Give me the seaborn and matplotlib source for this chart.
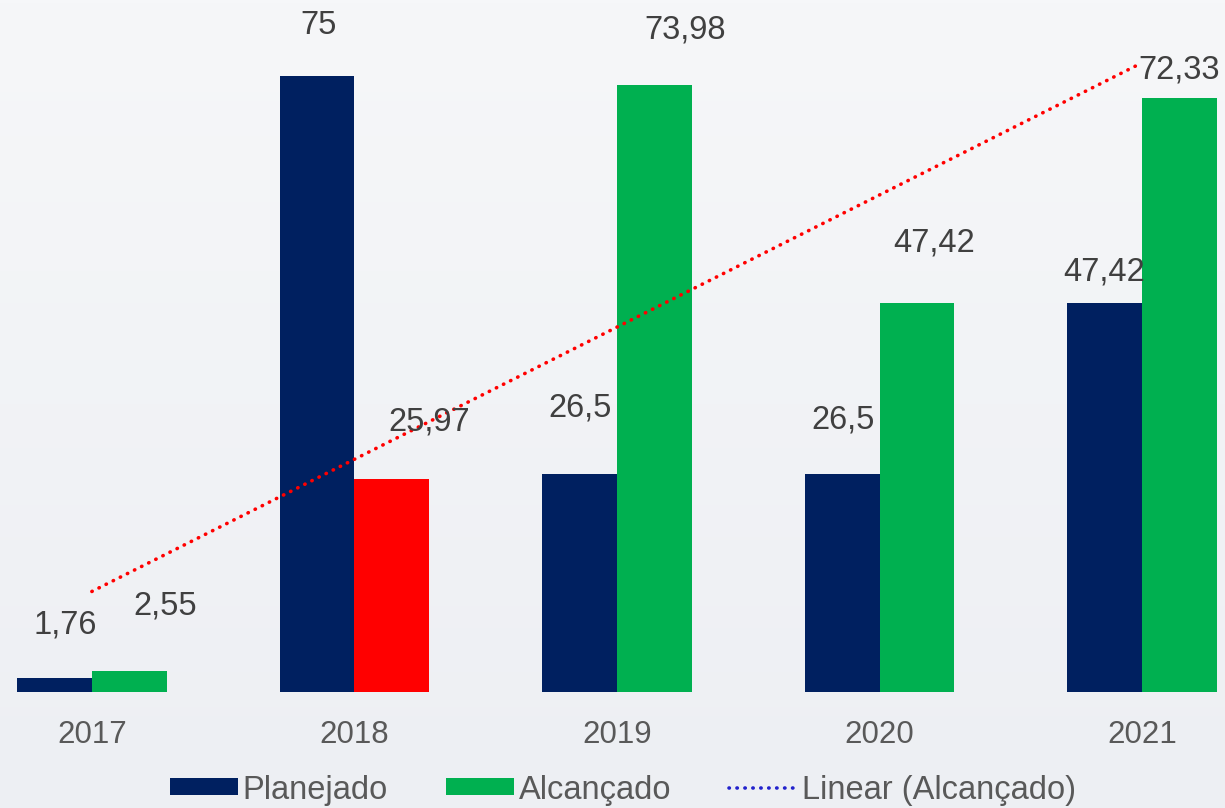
import numpy as np
import pandas as pd
import seaborn as sns
import matplotlib.pyplot as plt
from matplotlib.patches import Patch
from matplotlib.lines import Line2D

years = ['2017', '2018', '2019', '2020', '2021']
planejado = [1.76, 75, 26.5, 26.5, 47.42]
alcancado = [2.55, 25.97, 73.98, 47.42, 72.33]
plan_labels = ['1,76', '75', '26,5', '26,5', '47,42']
alc_labels = ['2,55', '25,97', '73,98', '47,42', '72,33']

# label offsets in pixels (dx, dy) from bar top
plan_off = [(11, 53), (2, 51), (1, 66), (1, 54), (-1, 31)]
alc_off = [(36, 65), (37, 57), (31, 55), (17, 60), (0, 28)]

navy = '#002060'
green = '#00B050'

df = pd.DataFrame({
    'ano': years * 2,
    'valor': planejado + alcancado,
    'serie': ['Planejado'] * 5 + ['Alcançado'] * 5,
})

sns.set_style('white')
plt.rcParams['font.family'] = ['Liberation Sans', 'DejaVu Sans']

fig = plt.figure(figsize=(12.25, 8.08), dpi=100)
# soft grey gradient background
bg = fig.add_axes([0, 0, 1, 1], zorder=-1)
grad = np.linspace(0, 1, 256).reshape(-1, 1)
bg.imshow(grad, aspect='auto', cmap=plt.matplotlib.colors.LinearSegmentedColormap.from_list(
    'bg', ['#F6F7F9', '#EDEFF3']), extent=[0, 1, 0, 1])
bg.axis('off')

ax = fig.add_axes([0, 116 / 808, 1, 692 / 808])
ax.patch.set_alpha(0)
sns.barplot(data=df, x='ano', y='valor', hue='serie', palette=[navy, green],
            width=0.57, gap=0, ax=ax, legend=False, saturation=1, linewidth=0)
# 2018 "Alcançado" in red
ax.containers[1][1].set_facecolor('#FF0000')

ax.set_xlim(-0.35, 4.316)
ax.set_ylim(0, 84.3)

for cont, labs, offs in [(ax.containers[0], plan_labels, plan_off),
                         (ax.containers[1], alc_labels, alc_off)]:
    for bar, lab, (dx, dy) in zip(cont, labs, offs):
        ax.annotate(lab, (bar.get_x() + bar.get_width() / 2, bar.get_height()),
                    xytext=(dx, dy), textcoords='offset pixels',
                    ha='center', va='center', fontsize=23.5, color='#404040')

# linear trend of Alcançado
xs = np.arange(len(years))
k, b = np.polyfit(xs, alcancado, 1)
ax.plot(xs, k * xs + b, color='#FF0000', lw=2.6, linestyle=(0, (0.1, 2.1)),
        dash_capstyle='round')

ax.set_xlabel('')
ax.set_ylabel('')
ax.set_yticks([])
ax.tick_params(axis='x', length=0, pad=20, labelsize=22.5, labelcolor='#595959')
sns.despine(ax=ax, left=True, bottom=True)

handles = [Patch(facecolor=navy, edgecolor='none'),
           Patch(facecolor=green, edgecolor='none'),
           Line2D([0], [0], color='#2222CC', lw=2.6, linestyle=(0, (0.1, 2.1)),
                  dash_capstyle='round')]
fig.legend(handles, ['Planejado', 'Alcançado', 'Linear (Alcançado)'],
           loc='center', bbox_to_anchor=(623 / 1225, 18 / 808), ncol=3, frameon=False,
           fontsize=23.5, labelcolor='#595959', handlelength=2.08, handleheight=0.43,
           handletextpad=0.15, columnspacing=1.78)

fig.savefig('out.png', dpi=100)
